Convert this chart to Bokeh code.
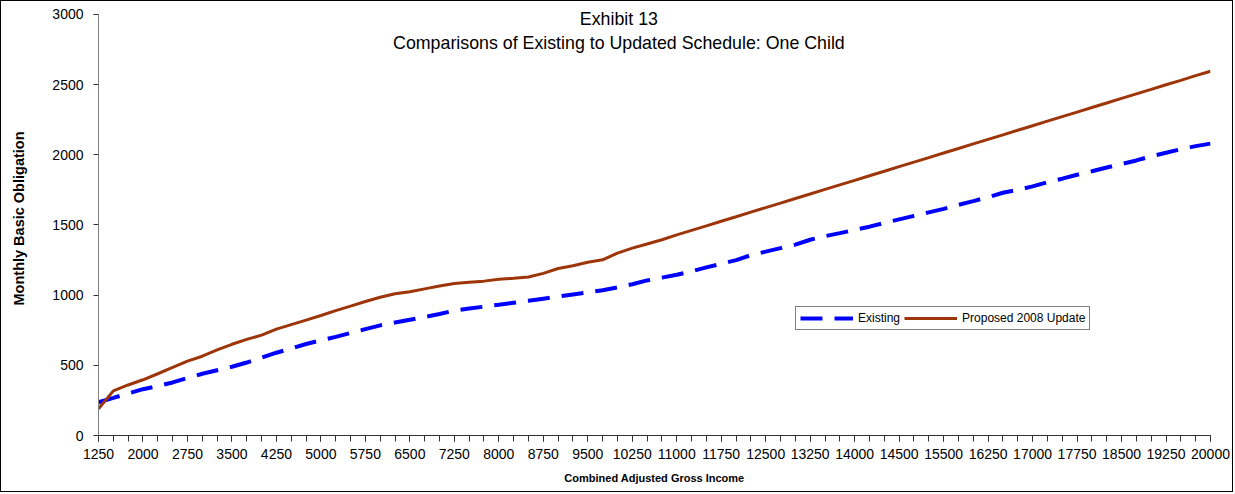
import math
from bokeh.plotting import figure
from bokeh.models import Range1d, FixedTicker, Label, Legend, LegendItem
from bokeh.embed import file_html
from bokeh.resources import INLINE

income_labels = ["1250", "2000", "2750", "3500", "4250", "5000", "5750", "6500",
                 "7250", "8000", "8750", "9500", "10250", "11000", "11750", "12500",
                 "13250", "14000", "14500", "15500", "16250", "17000", "17750",
                 "18500", "19250", "20000"]

existing = [237, 268, 300, 330, 352, 378, 410, 440, 465, 490,
            520, 555, 590, 620, 652, 678, 703, 730, 758, 785,
            805, 825, 845, 866, 890, 905, 918, 932, 946, 960,
            975, 990, 1005, 1020, 1035, 1055, 1078, 1105, 1125, 1145,
            1170, 1198, 1223, 1250, 1285, 1310, 1335, 1360, 1395, 1420,
            1442, 1465, 1488, 1515, 1540, 1565, 1590, 1615, 1643, 1670,
            1698, 1730, 1750, 1775, 1805, 1830, 1858, 1883, 1910, 1935,
            1960, 1990, 2015, 2040, 2062, 2080]

proposed = [190, 318, 360, 397, 440, 485, 530, 565, 610, 650,
            685, 715, 758, 790, 822, 855, 890, 922, 955, 985,
            1010, 1025, 1045, 1065, 1083, 1092, 1100, 1113, 1120, 1130,
            1155, 1190, 1210, 1235, 1252, 1300, 1335, 1365, 1395, 1430,
            1462, 1494, 1527, 1559, 1592, 1624, 1656, 1689, 1721, 1754,
            1786, 1818, 1851, 1883, 1916, 1948, 1980, 2013, 2045, 2078,
            2110, 2142, 2175, 2207, 2240, 2272, 2304, 2337, 2369, 2402,
            2434, 2466, 2499, 2531, 2564, 2596]

idx = list(range(len(existing)))
FONT = "Liberation Sans"

p = figure(width=1233, height=492, output_backend="svg", toolbar_location=None,
           x_range=Range1d(0, len(idx) - 1), y_range=Range1d(0, 3092.6),
           min_border_left=97, min_border_right=24, min_border_top=0,
           min_border_bottom=58)
p.styles = {"border": "1px solid #000000"}
p.outline_line_color = None
p.xgrid.visible = False
p.ygrid.visible = False
p.background_fill_color = "white"
p.border_fill_color = "white"

label_ticks = list(range(0, len(idx), 3))
p.xaxis.ticker = FixedTicker(ticks=label_ticks, minor_ticks=idx)
p.xaxis.major_label_overrides = {t: lab for t, lab in zip(label_ticks, income_labels)}
p.xaxis.major_tick_in = 0
p.xaxis.major_tick_out = 6
p.xaxis.minor_tick_in = 0
p.xaxis.minor_tick_out = 6
p.xaxis.axis_line_color = "#333333"
p.xaxis.major_tick_line_color = "#333333"
p.xaxis.minor_tick_line_color = "#333333"
p.xaxis.major_label_text_font = FONT
p.xaxis.major_label_text_font_size = "14px"
p.xaxis.major_label_text_color = "black"
p.xaxis.major_label_standoff = 7
p.xaxis.axis_label = "Combined Adjusted Gross Income"
p.xaxis.axis_label_text_font = FONT
p.xaxis.axis_label_text_font_size = "11px"
p.xaxis.axis_label_text_font_style = "bold"
p.xaxis.axis_label_text_color = "black"
p.xaxis.axis_label_standoff = 10

p.yaxis.ticker = FixedTicker(ticks=[0, 500, 1000, 1500, 2000, 2500, 3000])
p.yaxis.bounds = (0, 3000)
p.yaxis.minor_tick_line_color = None
p.yaxis.major_tick_in = 0
p.yaxis.major_tick_out = 5
p.yaxis.axis_line_color = "#808080"
p.yaxis.major_tick_line_color = "#333333"
p.yaxis.major_label_text_font = FONT
p.yaxis.major_label_text_font_size = "14px"
p.yaxis.major_label_text_color = "black"
p.yaxis.major_label_standoff = 10
p.yaxis.axis_label = "Monthly Basic Obligation"
p.yaxis.axis_label_text_font = FONT
p.yaxis.axis_label_text_font_size = "14.5px"
p.yaxis.axis_label_text_font_style = "bold"
p.yaxis.axis_label_text_color = "black"
p.yaxis.axis_label_standoff = 22

r_ex = p.line(idx, existing, line_color="#0000FF", line_width=4, line_dash="22 12")
r_pr = p.line(idx, proposed, line_color="#9E3508", line_width=3)

legend = Legend(items=[LegendItem(label="Existing", renderers=[r_ex]),
                       LegendItem(label="Proposed 2008 Update", renderers=[r_pr])],
                orientation="horizontal", location=(697, 105))
legend.label_text_font = FONT
legend.label_text_font_size = "12px"
legend.label_text_color = "black"
legend.glyph_width = 53
legend.glyph_height = 14
legend.label_standoff = 5
legend.spacing = 4
legend.padding = 4
legend.margin = 0
legend.label_height = 14
legend.border_line_color = "black"
legend.border_line_width = 1
legend.background_fill_color = "white"
p.add_layout(legend, "center")

p.add_layout(Label(x=35.1, y=2970, text="Exhibit 13", text_align="center",
                   text_baseline="middle", text_font=FONT, text_font_size="17.8px",
                   text_color="black"))
p.add_layout(Label(x=35.1, y=2800, text="Comparisons of Existing to Updated Schedule: One Child",
                   text_align="center", text_baseline="middle", text_font=FONT,
                   text_font_size="17.8px", text_color="black"))

open("out.html", "w").write(file_html(p, INLINE))
